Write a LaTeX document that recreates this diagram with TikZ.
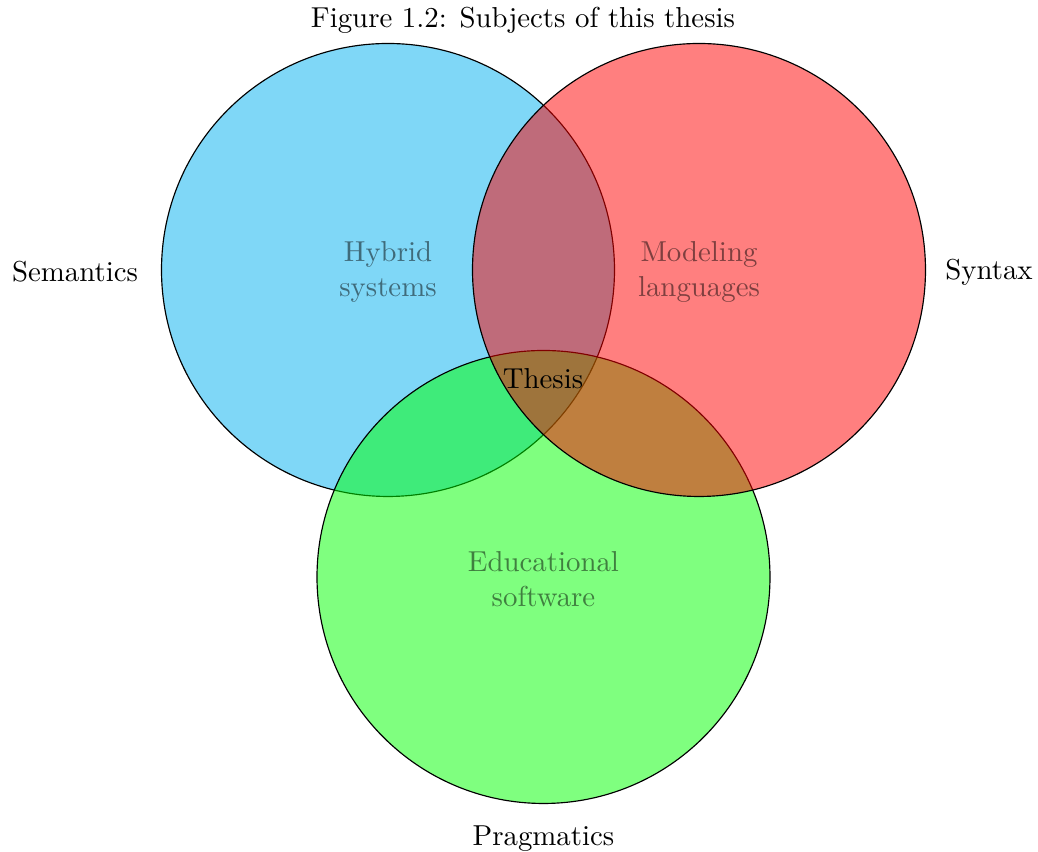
\documentclass[tikz,border=0pt]{standalone}
\usepackage{tikz}

\definecolor{semblue}{RGB}{0,175,239}

\begin{document}
\begin{tikzpicture}[x=0.3468 pt,y=0.3468 pt]
\useasboundingbox (0,0) rectangle (1038,852);

\foreach \x/\y/\col in {388/582/semblue,543.5/275/green,699/582/red}
{\draw[black,fill=\col,fill opacity=0.5] (\x,\y) circle (226.5);}

\node[align=center,text opacity=0.5] (hybrid) at (388,580) {Hybrid\\systems};
\node[align=center,text opacity=0.5] (modeling) at (699,580) {Modeling\\languages};
\node[align=center,text opacity=0.5] (educational) at (543.5,273) {Educational\\software};
\node (thesis) at (543,473) {Thesis};

\node (semantics) at (75,580) {Semantics};
\node (syntax) at (989,580) {Syntax};
\node (pragmatics) at (543.5,13) {Pragmatics};
\node (caption) at (523,832) {Figure 1.2: Subjects of this thesis};
\end{tikzpicture}
\end{document}
